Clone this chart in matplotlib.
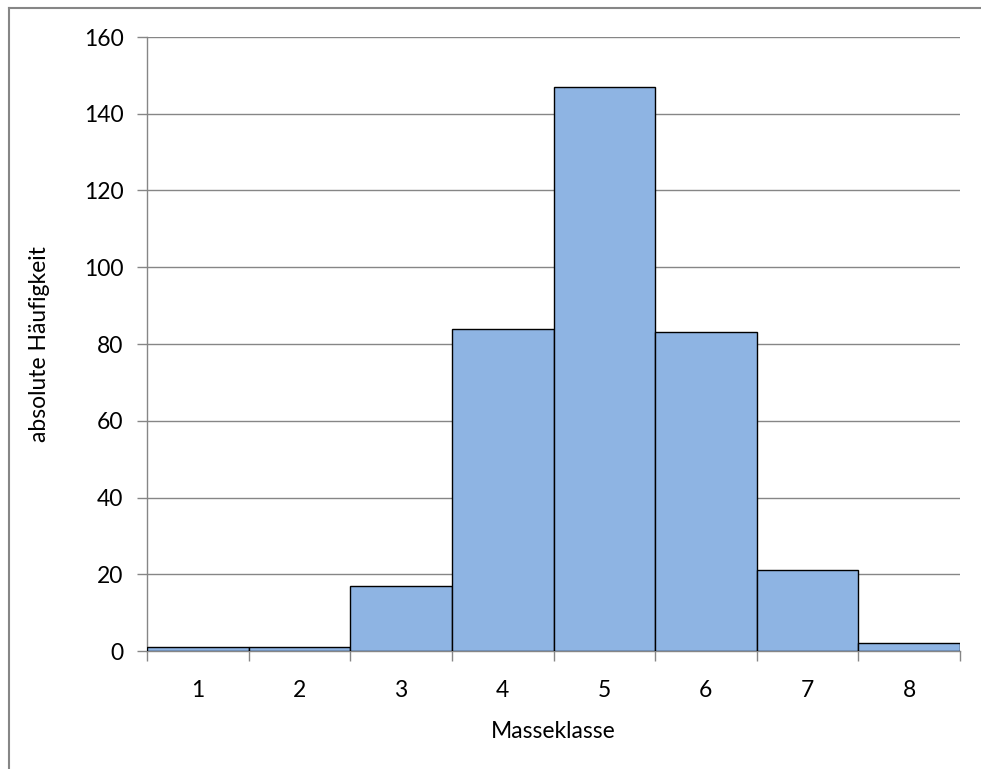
import matplotlib.pyplot as plt
from matplotlib.lines import Line2D

# Daten
klassen = [1, 2, 3, 4, 5, 6, 7, 8]
haeufigkeit = [1, 1, 17, 84, 147, 83, 21, 2]
yticks = [0, 20, 40, 60, 80, 100, 120, 140, 160]

plt.rcParams['font.family'] = ['Lato', 'DejaVu Sans']

fig = plt.figure(figsize=(9.81, 7.69), dpi=100)
ax = fig.add_axes([147/981, 1 - 651/769, (960 - 147)/981, (651 - 37)/769])

# äußerer Rahmen (nur oben und links sichtbar)
fx, fy = 8.5/981, 1 - 8/769
fig.lines.append(Line2D([fx, 1.0], [fy, fy], transform=fig.transFigure,
                        color='#868686', linewidth=1.5))
fig.lines.append(Line2D([fx, fx], [0.0, fy], transform=fig.transFigure,
                        color='#868686', linewidth=1.5))

ax.bar(klassen, haeufigkeit, width=1.0, color='#8EB4E3',
       edgecolor='black', linewidth=1.0, zorder=3)

ax.set_xlim(0.5, 8.5)
ax.set_ylim(0, 160)
ax.set_yticks(yticks)
ax.set_xticks(klassen)
ax.set_xticks([k + 0.5 for k in [0] + klassen], minor=True)
ax.tick_params(axis='x', which='major', length=0, pad=21, labelsize=16.5)
ax.tick_params(axis='x', which='minor', length=7, color='#868686', width=1)
ax.tick_params(axis='y', length=7, color='#868686', width=1, labelsize=16.5, pad=10)

ax.grid(axis='y', color='#868686', linewidth=1, zorder=0)
for s in ['top', 'right']:
    ax.spines[s].set_visible(False)
for s in ['left', 'bottom']:
    ax.spines[s].set_color('#868686')
    ax.spines[s].set_linewidth(1)

ax.set_xlabel('Masseklasse', fontsize=16.5, labelpad=14)
ax.set_ylabel('absolute Häufigkeit', fontsize=16.5, labelpad=24)

fig.savefig('out.png', dpi=100)
